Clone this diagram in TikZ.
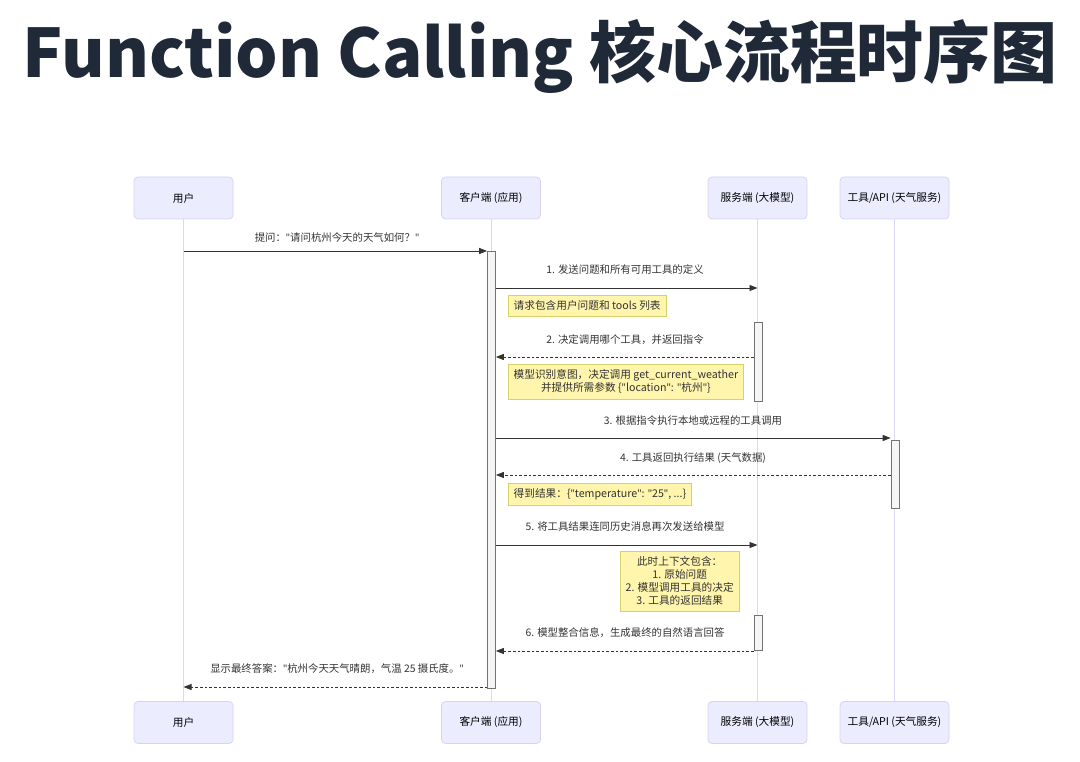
\documentclass[tikz,border=0pt]{standalone}
\usepackage{fontspec}
\setmainfont{Noto Sans CJK SC}
\newfontfamily\latinfont{Noto Sans}
\newcommand\q{{\latinfont"}}
\usetikzlibrary{arrows.meta,positioning}

\definecolor{actorfill}{HTML}{ECECFF}
\definecolor{actorline}{HTML}{D7D2F2}
\definecolor{lifeline}{HTML}{DCD6F7}
\definecolor{notefill}{HTML}{FFF5AD}
\definecolor{noteline}{HTML}{D6D26A}
\definecolor{msgcol}{HTML}{333333}
\definecolor{titlecol}{HTML}{1F2937}

\tikzset{
  actor/.style={draw=actorline, fill=actorfill, rounded corners=3pt, line width=0.6pt,
    minimum width=74.25pt, minimum height=31.5pt, font=\fontsize{8}{10}\selectfont, text=black},
  life/.style={draw=lifeline, line width=0.7pt},
  act/.style={draw=black!55, fill=black!4, line width=0.5pt, minimum width=6pt, inner sep=0pt},
  msg/.style={draw=msgcol, line width=0.7pt, -{Triangle[length=6pt,width=4.5pt]}},
  reply/.style={msg, dash pattern=on 2pt off 1.5pt},
  msglabel/.style={font=\fontsize{7.8}{9}\selectfont, text=msgcol, inner sep=0pt},
  note/.style={draw=noteline, fill=notefill, line width=0.5pt, font=\fontsize{8}{9.8}\selectfont,
    text=msgcol, align=center, inner sep=4pt, anchor=north west}
}

\begin{document}
\begin{tikzpicture}[x=0.75pt, y=-0.75pt]
  \useasboundingbox (0,0) rectangle (1080,762);

  % title
  \node[font=\fontsize{50.2}{58}\selectfont\bfseries, text=titlecol] (title) at (540,56) {Function Calling 核心流程时序图};

  % participants
  \node[actor] (user_top) at (183.5,198) {用户};
  \node[actor] (client_top) at (491,198) {客户端 (应用)};
  \node[actor] (server_top) at (757.5,198) {服务端 (大模型)};
  \node[actor, minimum width=81.75pt] (tool_top) at (894.5,198) {工具/API (天气服务)};

  \node[actor] (user_bot) at (183.5,722.5) {用户};
  \node[actor] (client_bot) at (491,722.5) {客户端 (应用)};
  \node[actor] (server_bot) at (757.5,722.5) {服务端 (大模型)};
  \node[actor, minimum width=81.75pt] (tool_bot) at (894.5,722.5) {工具/API (天气服务)};

  % lifelines
  \draw[life] (user_top) -- (user_bot);
  \draw[life] (client_top) -- (client_bot);
  \draw[life] (server_top) -- (server_bot);
  \draw[life] (tool_top) -- (tool_bot);

  % activations
  \node[act, minimum height=437*0.75pt] (act_client) at (491.5,469.5) {};
  \node[act, minimum height=79*0.75pt] (act_server1) at (758,361.5) {};
  \node[act, minimum height=68*0.75pt] (act_tool) at (895,474) {};
  \node[act, minimum height=35*0.75pt] (act_server2) at (758,632.5) {};

  % messages
  \node[msglabel] (m0) at (337,238) {提问：\q 请问杭州今天的天气如何？\q};
  \draw[msg] (user_top |- 0,251) -- (act_client.west |- 0,251);

  \node[msglabel] (m1) at (625,270) {1. 发送问题和所有可用工具的定义};
  \draw[msg] (act_client.east |- 0,288) -- (server_top |- 0,288);

  \node[note] (n1) at (508,295) {请求包含用户问题和 tools 列表};

  \node[msglabel] (m2) at (625,340) {2. 决定调用哪个工具，并返回指令};
  \draw[reply] (act_server1.west |- 0,357) -- (act_client.east |- 0,357);

  \node[note] (n2) at (508,364) {模型识别意图，决定调用 get\_current\_weather\\并提供所需参数 \{\q location\q: \q 杭州\q\}};

  \node[msglabel] (m3) at (693,421) {3. 根据指令执行本地或远程的工具调用};
  \draw[msg] (act_client.east |- 0,438) -- (act_tool.west |- 0,438);

  \node[msglabel] (m4) at (693,458) {4. 工具返回执行结果 (天气数据)};
  \draw[reply] (act_tool.west |- 0,475) -- (act_client.east |- 0,475);

  \node[note] (n3) at (508,483) {得到结果：\{\q temperature\q: \q 25\q, ...\}};

  \node[msglabel] (m5) at (625,527) {5. 将工具结果连同历史消息再次发送给模型};
  \draw[msg] (act_client.east |- 0,545) -- (server_top |- 0,545);

  \node[note] (n4) at (620,551) {此时上下文包含：\\1. 原始问题\\2. 模型调用工具的决定\\3. 工具的返回结果};

  \node[msglabel] (m6) at (625,633) {6. 模型整合信息，生成最终的自然语言回答};
  \draw[reply] (act_server2.west |- 0,651) -- (act_client.east |- 0,651);

  \node[msglabel] (m7) at (337,669) {显示最终答案：\q 杭州今天天气晴朗，气温 25 摄氏度。\q};
  \draw[reply] (act_client.west |- 0,687) -- (user_top |- 0,687);
\end{tikzpicture}
\end{document}
